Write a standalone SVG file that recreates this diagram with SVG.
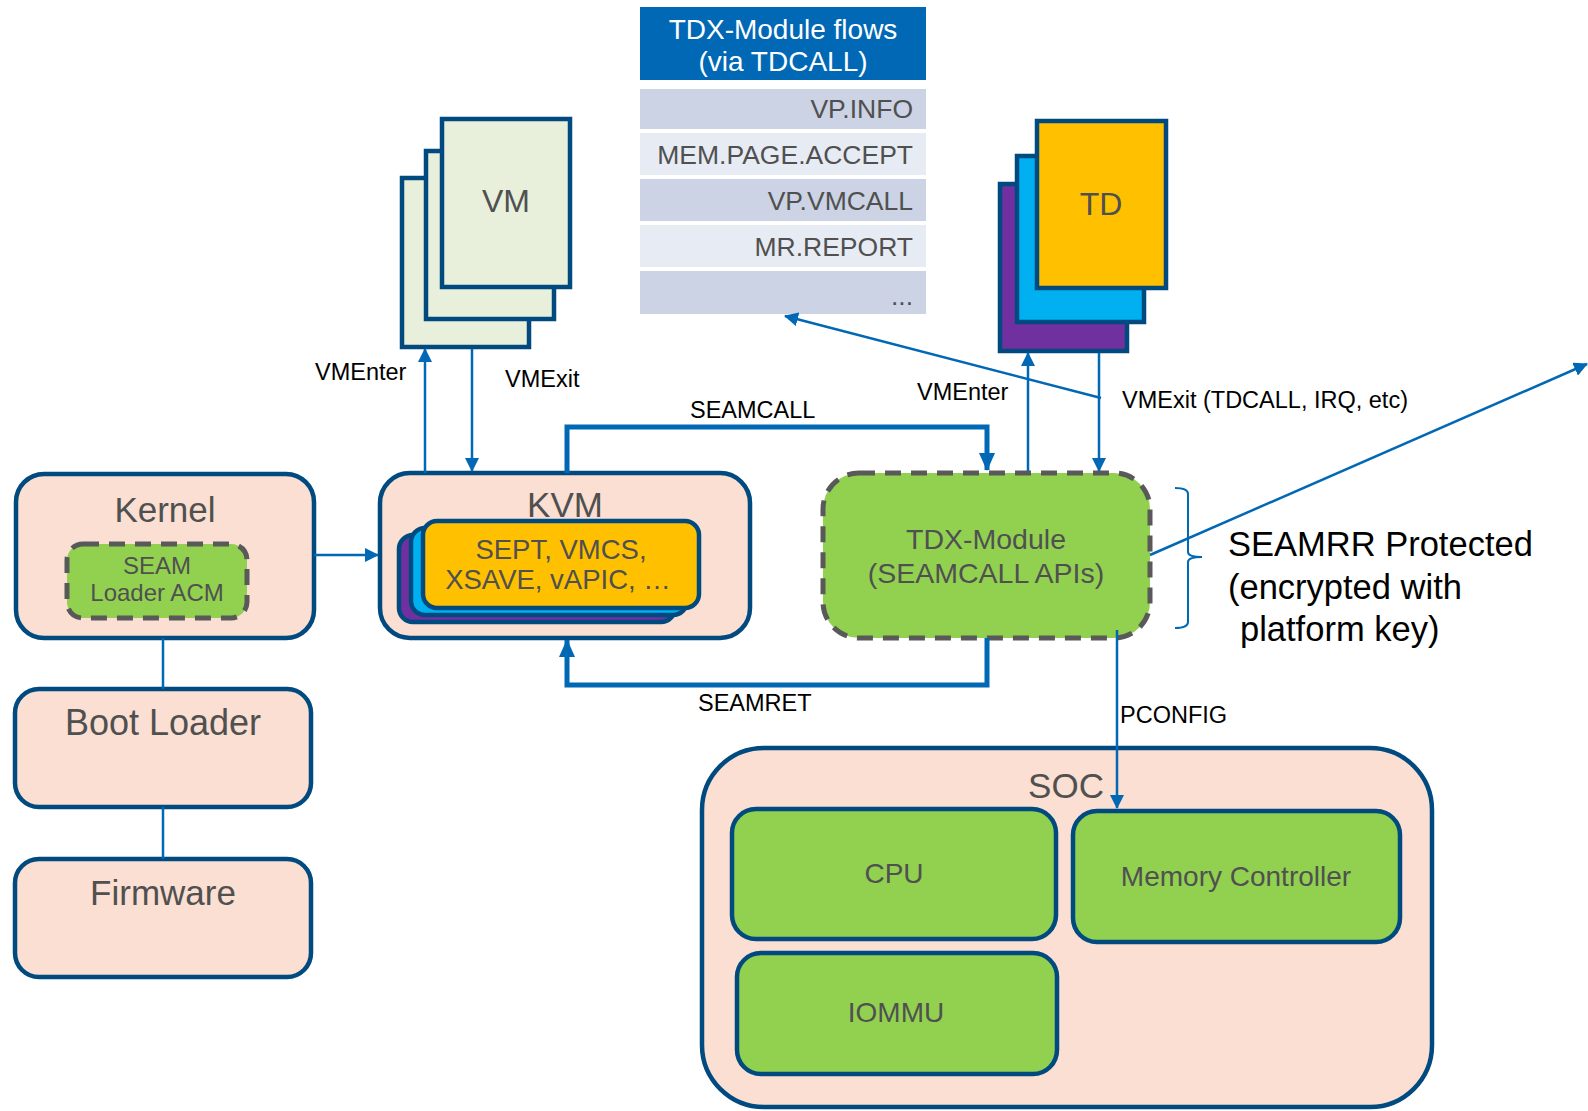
<svg xmlns="http://www.w3.org/2000/svg" width="1588" height="1111" viewBox="0 0 1588 1111">
<style>
  text { font-family: "Liberation Sans", Arial, sans-serif; }
  .box { fill: #FADFD2; stroke: #004A80; stroke-width: 4.5; }
  .green { fill: #92D050; stroke: #004A80; stroke-width: 4.5; }
  .dash { fill: #92D050; stroke: #595959; stroke-width: 5; stroke-dasharray: 16 10; }
  .vm { fill: #E8EFDA; stroke: #004A80; stroke-width: 4.5; }
  .lbl { fill: #505050; text-anchor: middle; }
  .conn { fill: none; stroke: #0068B5; stroke-width: 2.5; }
  .thick { fill: none; stroke: #0068B5; stroke-width: 5; }
  .ctext { fill: #000; font-size: 23.5px; }
  .row { font-size: 26.5px; fill: #505050; text-anchor: end; }
</style>
<defs>
  <marker id="ah" markerUnits="userSpaceOnUse" markerWidth="14" markerHeight="14" refX="13" refY="7" orient="auto">
    <path d="M0,0 L14,7 L0,14 Z" fill="#0068B5"/>
  </marker>
  <marker id="ahb" markerUnits="userSpaceOnUse" markerWidth="18" markerHeight="16" refX="17" refY="8" orient="auto">
    <path d="M0,0 L18,8 L0,16 Z" fill="#0068B5"/>
  </marker>
</defs>
<rect width="1588" height="1111" fill="#FFFFFF"/>

<g id="tdcall-table">
  <rect x="640" y="7" width="286" height="73" fill="#0068B5"/>
  <text x="783" y="39" font-size="28" fill="#FFFFFF" text-anchor="middle">TDX-Module flows</text>
  <text x="783" y="71" font-size="28" fill="#FFFFFF" text-anchor="middle">(via TDCALL)</text>
  <rect x="640" y="89" width="286" height="40" fill="#CBD3E4"/>
  <rect x="640" y="133" width="286" height="42" fill="#E7EBF4"/>
  <rect x="640" y="179" width="286" height="42" fill="#CBD3E4"/>
  <rect x="640" y="225" width="286" height="42" fill="#E7EBF4"/>
  <rect x="640" y="271" width="286" height="43" fill="#CBD3E4"/>
  <text class="row" x="913" y="118">VP.INFO</text>
  <text class="row" x="913" y="164">MEM.PAGE.ACCEPT</text>
  <text class="row" x="913" y="210">VP.VMCALL</text>
  <text class="row" x="913" y="256">MR.REPORT</text>
  <text class="row" x="913" y="305" font-size="16">...</text>
</g>

<g id="vm">
  <rect class="vm" x="402" y="178" width="127" height="169"/>
  <rect class="vm" x="426" y="151" width="128" height="168"/>
  <rect class="vm" x="442" y="119" width="128" height="168"/>
  <text class="lbl" x="506" y="212" font-size="32">VM</text>
</g>

<g id="td">
  <rect x="1000" y="184" width="127" height="167" fill="#7030A0" stroke="#004A80" stroke-width="4.5"/>
  <rect x="1017" y="156" width="127" height="166" fill="#00B0F0" stroke="#004A80" stroke-width="4.5"/>
  <rect x="1037" y="121" width="129" height="167" fill="#FFC000" stroke="#004A80" stroke-width="4.5"/>
  <text class="lbl" x="1101" y="215" font-size="32">TD</text>
</g>

<g id="kernel">
  <rect class="box" x="16" y="474" width="298" height="164" rx="28"/>
  <text class="lbl" x="165" y="522" font-size="35">Kernel</text>
</g>
<g id="seam-loader">
  <rect class="dash" x="67" y="544" width="180" height="74" rx="16"/>
  <text class="lbl" x="157" y="574" font-size="24">SEAM</text>
  <text class="lbl" x="157" y="601" font-size="24">Loader ACM</text>
</g>

<g id="boot-loader">
  <rect class="box" x="15" y="689" width="296" height="118" rx="24"/>
  <text class="lbl" x="163" y="735" font-size="36">Boot Loader</text>
</g>
<g id="firmware">
  <rect class="box" x="15" y="859" width="296" height="118" rx="24"/>
  <text class="lbl" x="163" y="905" font-size="35">Firmware</text>
</g>

<g id="kvm">
  <rect class="box" x="380" y="473" width="370" height="165" rx="30"/>
  <text class="lbl" x="565" y="517" font-size="35">KVM</text>
  <rect x="399" y="535" width="276" height="87" rx="14" fill="#7030A0" stroke="#004A80" stroke-width="4.5"/>
  <rect x="411" y="528" width="276" height="87" rx="14" fill="#00B0F0" stroke="#004A80" stroke-width="4.5"/>
  <rect x="423" y="521" width="276" height="87" rx="14" fill="#FFC000" stroke="#004A80" stroke-width="4.5"/>
  <text class="lbl" x="561" y="559" font-size="27.5">SEPT, VMCS,</text>
  <text class="lbl" x="558" y="589" font-size="27.5">XSAVE, vAPIC, …</text>
</g>

<g id="tdx-module">
  <rect class="dash" x="823" y="473" width="327" height="165" rx="36"/>
  <text class="lbl" x="986" y="549" font-size="28.5">TDX-Module</text>
  <text class="lbl" x="986" y="583" font-size="28.5">(SEAMCALL APIs)</text>
</g>

<g id="seamrr-note">
  <path d="M1175,488 Q1188,488 1188,494 L1188,552 Q1188,557 1202,557 Q1188,557 1188,562 L1188,622 Q1188,628 1175,628" fill="none" stroke="#0068B5" stroke-width="2"/>
  <text x="1228" y="556" font-size="34.5" fill="#000">SEAMRR Protected</text>
  <text x="1228" y="599" font-size="34.5" fill="#000">(encrypted with</text>
  <text x="1240" y="641" font-size="34.5" fill="#000">platform key)</text>
</g>

<g id="soc">
  <rect class="box" x="702" y="748" width="730" height="359" rx="62"/>
  <text class="lbl" x="1066" y="798" font-size="35">SOC</text>
</g>
<g id="cpu">
  <rect class="green" x="732" y="809" width="324" height="130" rx="24"/>
  <text class="lbl" x="894" y="883" font-size="28">CPU</text>
</g>
<g id="memory-controller">
  <rect class="green" x="1073" y="811" width="327" height="131" rx="24"/>
  <text class="lbl" x="1236" y="886" font-size="28">Memory Controller</text>
</g>
<g id="iommu">
  <rect class="green" x="737" y="953" width="320" height="121" rx="24"/>
  <text class="lbl" x="896" y="1022" font-size="28">IOMMU</text>
</g>

<g id="connectors">
  <line class="conn" x1="425" y1="473" x2="425" y2="349" marker-end="url(#ah)"/>
  <line class="conn" x1="472" y1="349" x2="472" y2="471" marker-end="url(#ah)"/>
  <line class="conn" x1="1028" y1="471" x2="1028" y2="353" marker-end="url(#ah)"/>
  <line class="conn" x1="1099" y1="353" x2="1099" y2="471" marker-end="url(#ah)"/>
  <line class="conn" x1="1101" y1="398" x2="785" y2="316" marker-end="url(#ah)"/>
  <line class="conn" x1="1150" y1="555" x2="1587" y2="364" marker-end="url(#ah)"/>
  <line class="conn" x1="314" y1="555" x2="378" y2="555" marker-end="url(#ah)"/>
  <line class="conn" x1="163" y1="638" x2="163" y2="689"/>
  <line class="conn" x1="163" y1="807" x2="163" y2="859"/>
  <line class="conn" x1="1117" y1="630" x2="1117" y2="808" marker-end="url(#ah)"/>
  <path class="thick" d="M567,473 L567,427 L987,427 L987,470" marker-end="url(#ahb)"/>
  <path class="thick" d="M987,638 L987,685 L567,685 L567,640" marker-end="url(#ahb)"/>
  <text class="ctext" x="315" y="380">VMEnter</text>
  <text class="ctext" x="505" y="387">VMExit</text>
  <text class="ctext" x="690" y="418">SEAMCALL</text>
  <text class="ctext" x="917" y="400">VMEnter</text>
  <text class="ctext" x="1122" y="408">VMExit (TDCALL, IRQ, etc)</text>
  <text class="ctext" x="698" y="711">SEAMRET</text>
  <text class="ctext" x="1120" y="723">PCONFIG</text>
</g>
</svg>
